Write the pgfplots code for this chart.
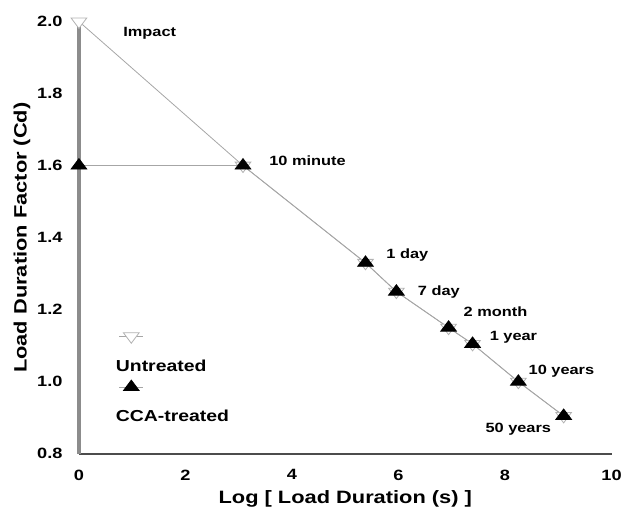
\documentclass[border={10.5pt 11pt 0pt 13pt}]{standalone}
\usepackage{pgfplots}
\pgfplotsset{compat=1.18}
\usepackage{fontspec}
\setmainfont{Liberation Sans}[FakeStretch=1.22]
\begin{document}
\begin{tikzpicture}
\begin{axis}[
  scale only axis, width=536pt, height=435pt,
  xmin=0, xmax=10, ymin=0.8, ymax=2.0,
  axis x line=bottom, axis y line=left, axis line style={-},
  x axis line style={draw=black!70, line width=1.6pt},
  y axis line style={draw=black!45, line width=3.2pt},
  xtick={0,2,4,6,8,10}, ytick={0.8,1.0,1.2,1.4,1.6,1.8,2.0},
  major tick length=0pt,
  /pgf/number format/assume math mode=true,
  ticklabel style={font=\fontsize{15}{15}\selectfont\bfseries},
  yticklabel style={/pgf/number format/fixed, /pgf/number format/fixed zerofill, /pgf/number format/precision=1, xshift=-13pt},
  xticklabel style={yshift=-12.5pt},
  xlabel={Log [ Load Duration (s) ]},
  ylabel={Load Duration Factor (Cd)},
  xlabel style={yshift=-3.5pt},
  label style={font=\fontsize{18}{18}\selectfont\bfseries},
  clip=false,
  legend style={at={(axis cs:0.58,1.073)}, anchor=north west, draw=none, fill=none,
    font=\fontsize{16}{16}\selectfont\bfseries, row sep=34pt},
  legend cell align=left,
  legend image code/.code={%
    \path (0pt,0pt) (0.1pt,0pt);
    \begin{pgfinterruptboundingbox}
    \draw[gray!70, line width=0.8pt] (6pt,30pt) -- (30pt,30pt);
    \draw[#1] plot coordinates {(18pt,30pt)};
    \end{pgfinterruptboundingbox}
  },
]
\addplot[gray!70, line width=0.8pt, mark=triangle*, mark size=7pt,
  mark options={solid, rotate=180, xscale=1.3, fill=white, draw=gray!60, line width=0.8pt}]
  coordinates {(0,2.0)(3.08,1.6)(5.38,1.33)(5.96,1.25)(6.94,1.15)(7.39,1.105)(8.25,1.0)(9.1,0.905)};
\addlegendentry{Untreated}
\addplot[gray!70, line width=0.8pt, mark=triangle*, mark size=7pt,
  mark options={solid, xscale=1.3, fill=black, draw=black}]
  coordinates {(0,1.6)(3.08,1.6)(5.38,1.33)(5.96,1.25)(6.94,1.15)(7.39,1.105)(8.25,1.0)(9.1,0.905)};
\addlegendentry{CCA-treated}
\begin{scope}[every node/.style={font=\fontsize{13.5}{13.5}\selectfont\bfseries, anchor=west, inner sep=0pt}]
\node at (axis cs:0.83,1.967) {Impact};
\node at (axis cs:3.57,1.614) {10 minute};
\node at (axis cs:5.77,1.353) {1 day};
\node at (axis cs:6.36,1.25) {7 day};
\node at (axis cs:7.22,1.194) {2 month};
\node at (axis cs:7.71,1.122) {1 year};
\node at (axis cs:8.44,1.03) {10 years};
\node at (axis cs:7.63,0.869) {50 years};
\end{scope}
\end{axis}
\end{tikzpicture}
\end{document}
